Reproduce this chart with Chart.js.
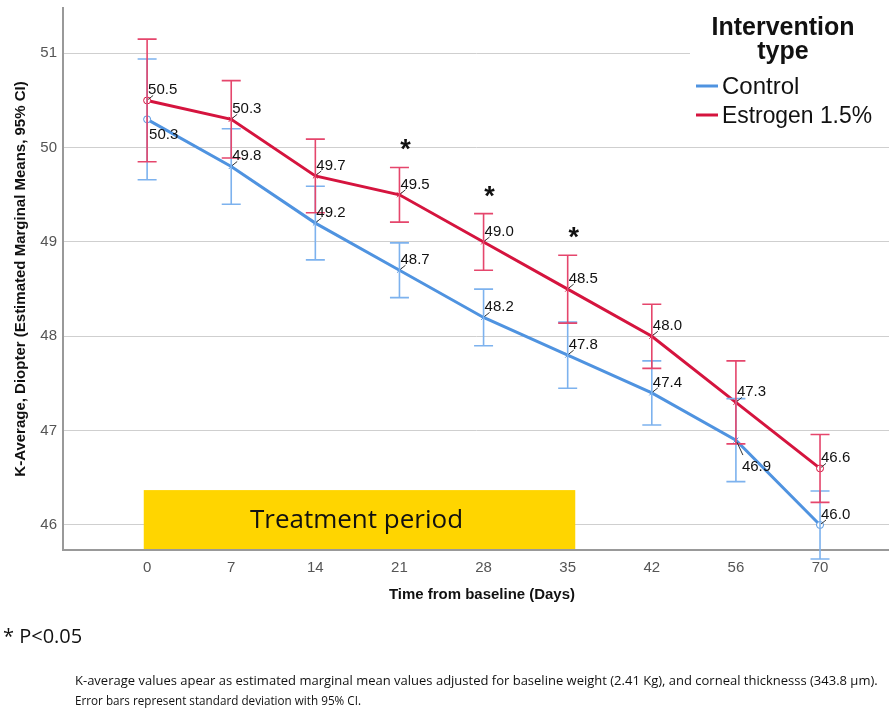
<!DOCTYPE html>
<html>
<head>
<meta charset="utf-8">
<title>K-Average over time</title>
<script src="https://cdn.jsdelivr.net/npm/chart.js@4/dist/chart.umd.min.js"></script>
<style>
  html, body { margin: 0; padding: 0; background: #fff; }
  #wrap { width: 889px; height: 710px; position: relative; }
</style>
</head>
<body>
<div id="wrap"><canvas id="c" width="889" height="710"></canvas></div>
<script>
// Time points (days from baseline)
const days = ['0', '7', '14', '21', '28', '35', '42', '56', '70'];

// Estimated marginal means of K-average (diopter)
const controlMeans  = [50.3, 49.8, 49.2, 48.7, 48.2, 47.8, 47.4, 46.9, 46.0];
const estrogenMeans = [50.5, 50.3, 49.7, 49.5, 49.0, 48.5, 48.0, 47.3, 46.6];

// Half-width of the 95% CI error bars
const controlCI  = [0.64, 0.40, 0.39, 0.29, 0.30, 0.35, 0.34, 0.44, 0.36];
const estrogenCI = [0.65, 0.41, 0.39, 0.29, 0.30, 0.36, 0.34, 0.44, 0.36];

// Days with P<0.05 between groups
const significantDays = ['21', '28', '35'];

// Treatment window (first and last day)
const treatmentDays = ['0', '35'];

// Y axis ticks
const yTicks = [46, 47, 48, 49, 50, 51];

const seriesNames = ['Control', 'Estrogen 1.5%'];

// ---- styling ----
const BLUE = '#4f93e0', BLUE_BAR = '#7db2ee';
const RED = '#d5143e', RED_BAR = '#e5466c';
const SANS = '"Liberation Sans", Arial, sans-serif';
const HUMAN = '"Open Sans", "Noto Sans", sans-serif';

// where each value label sits relative to its point
const controlLabelPlace  = ['below', 'above', 'above', 'above', 'above', 'above', 'above', 'belowFar', 'above'];
const estrogenLabelPlace = ['above', 'above', 'above', 'above', 'above', 'above', 'above', 'above', 'above'];

const toPoints = arr => arr.map((v, i) => ({ x: i, y: v }));
const endStyles = n => Array.from({ length: n }, (_, i) => (i === 0 || i === n - 1) ? 'circle' : 'crossRot');

const overlay = {
  id: 'overlay',
  beforeDatasetsDraw(chart) {
    const { ctx, scales: { x, y }, chartArea } = chart;
    const i0 = days.indexOf(treatmentDays[0]);
    const i1 = days.indexOf(treatmentDays[1]);
    const left = x.getPixelForValue(i0 - 0.04);
    const right = x.getPixelForValue(i1 + 0.09);
    const top = y.getPixelForValue(46.37);
    const bottom = chartArea.bottom - 1;
    ctx.save();
    ctx.fillStyle = '#ffd500';
    ctx.fillRect(left, top, right - left, bottom - top);
    ctx.fillStyle = '#111';
    ctx.font = '26px ' + HUMAN;
    ctx.textAlign = 'center';
    ctx.textBaseline = 'middle';
    ctx.fillText('Treatment period', (left + right) / 2 - 3, (top + bottom) / 2 + 1, 224);
    ctx.restore();
  },
  afterDatasetsDraw(chart) {
    const { ctx, scales: { x, y } } = chart;
    const groups = [
      { means: controlMeans, ci: controlCI, color: BLUE_BAR, place: controlLabelPlace },
      { means: estrogenMeans, ci: estrogenCI, color: RED_BAR, place: estrogenLabelPlace }
    ];
    ctx.save();
    // error bars
    groups.forEach(g => {
      ctx.strokeStyle = g.color;
      ctx.lineWidth = 1.6;
      g.means.forEach((m, i) => {
        const px = x.getPixelForValue(i);
        const yt = y.getPixelForValue(m + g.ci[i]);
        const yb = y.getPixelForValue(m - g.ci[i]);
        ctx.beginPath();
        ctx.moveTo(px, yt); ctx.lineTo(px, yb);
        ctx.moveTo(px - 9.5, yt); ctx.lineTo(px + 9.5, yt);
        ctx.moveTo(px - 9.5, yb); ctx.lineTo(px + 9.5, yb);
        ctx.stroke();
      });
    });
    // value labels with small leaders
    ctx.font = '15px ' + SANS;
    ctx.textAlign = 'left';
    ctx.textBaseline = 'alphabetic';
    groups.forEach(g => {
      g.means.forEach((m, i) => {
        const px = x.getPixelForValue(i);
        const py = y.getPixelForValue(m);
        const txt = m.toFixed(1);
        const place = g.place[i];
        ctx.strokeStyle = '#333';
        ctx.lineWidth = 1;
        ctx.fillStyle = '#111';
        if (place === 'above') {
          ctx.beginPath(); ctx.moveTo(px + 1, py - 1); ctx.lineTo(px + 6, py - 5); ctx.stroke();
          ctx.fillText(txt, px + 1, py - 6);
        } else if (place === 'below') {
          ctx.fillText(txt, px + 2, py + 20);
        } else {
          ctx.beginPath(); ctx.moveTo(px + 1, py + 2); ctx.lineTo(px + 7, py + 15); ctx.stroke();
          ctx.fillText(txt, px + 6, py + 31);
        }
      });
    });
    // significance markers
    ctx.font = 'bold 27px ' + SANS;
    ctx.textAlign = 'center';
    significantDays.forEach(d => {
      const i = days.indexOf(d);
      const px = x.getPixelForValue(i) + 6;
      const py = y.getPixelForValue(estrogenMeans[i] + estrogenCI[i]) - 24;
      ctx.fillText('*', px, py + 15);
    });
    ctx.restore();
  },
  afterDraw(chart) {
    const { ctx, chartArea } = chart;
    ctx.save();
    // legend panel
    ctx.fillStyle = '#fff';
    ctx.fillRect(690, 0, 199, 134);
    ctx.fillStyle = '#111';
    ctx.textAlign = 'center';
    ctx.textBaseline = 'alphabetic';
    ctx.font = 'bold 25px ' + SANS;
    ctx.fillText('Intervention', 783, 35, 150);
    ctx.fillText('type', 783, 59);
    ctx.textAlign = 'left';
    ctx.font = '24px ' + SANS;
    [BLUE, RED].forEach((col, k) => {
      const yy = k === 0 ? 86 : 115;
      ctx.strokeStyle = col;
      ctx.lineWidth = 3;
      ctx.beginPath(); ctx.moveTo(696, yy); ctx.lineTo(718, yy); ctx.stroke();
      ctx.fillStyle = '#111';
      ctx.fillText(seriesNames[k], 722, yy + 8, k === 0 ? 81 : 150);
    });
    // axis titles
    ctx.font = 'bold 15px ' + SANS;
    ctx.textAlign = 'center';
    ctx.fillText('Time from baseline (Days)', 482, 599, 186);
    ctx.save();
    ctx.translate(25, (chartArea.top + chartArea.bottom) / 2);
    ctx.rotate(-Math.PI / 2);
    ctx.fillText('K-Average, Diopter (Estimated Marginal Means, 95% CI)', 0, 0, 400);
    ctx.restore();
    // notes
    ctx.textAlign = 'left';
    ctx.font = '20px ' + HUMAN;
    ctx.fillText('* P<0.05', 3, 643, 93);
    ctx.font = '13px ' + HUMAN;
    ctx.fillText('K-average values apear as estimated marginal mean values adjusted for baseline weight (2.41 Kg), and corneal thicknesss (343.8 \u00b5m).', 75, 685, 806);
    ctx.fillText('Error bars represent standard deviation with 95% CI.', 75, 705, 286);
    ctx.restore();
  }
};

new Chart(document.getElementById('c'), {
  type: 'line',
  data: {
    datasets: [
      {
        label: seriesNames[0],
        data: toPoints(controlMeans),
        borderColor: BLUE, backgroundColor: '#fff',
        borderWidth: 3, tension: 0, order: 1,
        pointStyle: endStyles(controlMeans.length), pointRadius: 3.5,
        pointBorderColor: BLUE, pointBorderWidth: 1
      },
      {
        label: seriesNames[1],
        data: toPoints(estrogenMeans),
        borderColor: RED, backgroundColor: '#fff',
        borderWidth: 3, tension: 0, order: 0,
        pointStyle: endStyles(estrogenMeans.length), pointRadius: 3.5,
        pointBorderColor: RED, pointBorderWidth: 1
      }
    ]
  },
  options: {
    responsive: false,
    animation: false,
    events: [],
    layout: { autoPadding: false, padding: { top: 8, right: 0, bottom: 110, left: 0 } },
    plugins: { legend: { display: false }, tooltip: { enabled: false } },
    scales: {
      x: {
        type: 'linear', min: -1, max: 8.82,
        afterBuildTicks: s => { s.ticks = days.map((_, i) => ({ value: i })); },
        afterFit: s => { s.height = 50; s.paddingLeft = 0; s.paddingRight = 0; },
        ticks: { callback: v => days[v], color: '#555', font: { size: 15, family: SANS }, padding: 9, maxRotation: 0 },
        grid: { display: false, drawTicks: false },
        border: { display: true, color: '#999', width: 2 }
      },
      y: {
        type: 'linear', min: 45.735, max: 51.48,
        afterBuildTicks: s => { s.ticks = yTicks.map(v => ({ value: v })); },
        afterFit: s => { s.width = 63; s.paddingTop = 0; s.paddingBottom = 0; },
        ticks: { color: '#555', font: { size: 15, family: SANS }, padding: 6 },
        grid: { color: '#cfcfcf', lineWidth: 1, drawTicks: false },
        border: { display: true, color: '#999', width: 2 }
      }
    }
  },
  plugins: [overlay]
});
</script>
</body>
</html>
